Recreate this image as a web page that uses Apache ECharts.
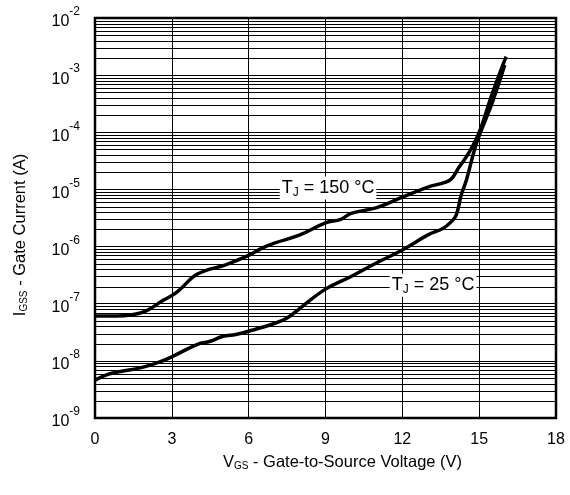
<!DOCTYPE html>
<html>
<head>
<meta charset="utf-8">
<script src="https://cdn.jsdelivr.net/npm/echarts@6/dist/echarts.min.js"></script>
<style>
  html, body { margin: 0; padding: 0; background: #fff; }
  #chart { width: 570px; height: 495px; }
</style>
</head>
<body>
<div id="chart"></div>
<script>
// Gate-to-source voltage (V) and gate leakage current (A), TJ = 150 °C
const vgs150 = [0, 0.8, 1.5, 2.0, 2.6, 3.2, 4.0, 5.1, 6.0, 6.5, 7.0, 8.0, 9.0, 9.6, 10.0, 11.0, 12.0, 13.0, 13.6, 13.9, 14.2, 14.6, 15.0, 15.5, 16.05];
const igss150 = [6.1e-8, 6.1e-8, 6.5e-8, 7.5e-8, 1.1e-7, 1.6e-7, 3.3e-7, 4.8e-7, 7.0e-7, 9.3e-7, 1.15e-6, 1.6e-6, 2.6e-6, 3.0e-6, 3.8e-6, 4.8e-6, 7.3e-6, 1.1e-5, 1.3e-5, 1.5e-5, 2.4e-5, 4.4e-5, 1.0e-4, 4.6e-4, 2.1e-3];

// TJ = 25 °C
const vgs25 = [0, 0.5, 1.0, 1.8, 2.5, 3.0, 4.0, 4.5, 5.0, 5.5, 6.0, 7.0, 7.5, 8.0, 9.0, 10.0, 11.0, 12.0, 13.0, 13.6, 13.9, 14.1, 14.3, 14.5, 14.9, 15.5, 16.0];
const igss25 = [4.6e-9, 5.8e-9, 6.5e-9, 7.6e-9, 9.5e-9, 1.18e-8, 1.95e-8, 2.2e-8, 2.7e-8, 2.9e-8, 3.3e-8, 4.5e-8, 5.6e-8, 8.3e-8, 1.8e-7, 3.0e-7, 5.2e-7, 8.7e-7, 1.6e-6, 2.1e-6, 2.7e-6, 3.5e-6, 8e-6, 1.45e-5, 6.5e-5, 3.2e-4, 1.5e-3];

// Axis ranges and ticks
const xTicks = [0, 3, 6, 9, 12, 15, 18];
const yDecades = [-9, -8, -7, -6, -5, -4, -3, -2];
const minorMultipliers = [2, 3, 4, 5, 6, 7, 8, 9];

// Curve annotation anchors: [V, I]
const label150 = [9.1, 1.06e-5];
const label25 = [13.2, 2.1e-7];

const pairs = (xs, ys) => xs.map((x, i) => [x, ys[i]]);

// Minor log gridline values (2..9 × each decade)
const minorValues = [];
yDecades.slice(0, -1).forEach(e => {
  minorMultipliers.forEach(m => minorValues.push(m * Math.pow(10, e)));
});

const xMin = xTicks[0];
const xMax = xTicks[xTicks.length - 1];

const font = 'Liberation Sans, Arial, Helvetica, sans-serif';
const subRich = { sub: { fontSize: 10, fontFamily: font, color: '#000', verticalAlign: 'bottom', padding: [7, 0, 0, 0] } };

const curveLabel = text => ({
  show: true, position: 'inside',
  formatter: text,
  color: '#000', fontFamily: font, fontSize: 18,
  backgroundColor: '#fff', padding: [1, 2, 1, 2],
  rich: { sub: { fontSize: 12, fontFamily: font, color: '#000', verticalAlign: 'bottom', padding: [9, 0, 0, 0] } }
});

const chart = echarts.init(document.getElementById('chart'));

chart.setOption({
  animation: false,
  backgroundColor: '#fff',
  grid: {
    left: 95, right: 14, top: 18, bottom: 77,
    show: true, borderColor: '#000', borderWidth: 2.5, backgroundColor: 'transparent', z: 10
  },
  xAxis: {
    type: 'value',
    min: xMin, max: xMax, interval: 3,
    axisLine: { show: false },
    axisTick: { show: false },
    axisLabel: { color: '#000', fontFamily: font, fontSize: 16, margin: 14 },
    splitLine: { show: true, lineStyle: { color: '#000', width: 1 } },
    name: 'V{sub|GS} - Gate-to-Source Voltage (V)',
    nameLocation: 'middle',
    nameGap: 36,
    nameTextStyle: {
      color: '#000', fontFamily: font, fontSize: 16.5, padding: [0, 0, 0, 34],
      rich: subRich
    }
  },
  yAxis: {
    type: 'log', logBase: 10,
    min: Math.pow(10, yDecades[0]), max: Math.pow(10, yDecades[yDecades.length - 1]),
    axisLine: { show: false },
    axisTick: { show: false },
    axisLabel: {
      margin: 15,
      formatter: v => '{b|10}{s|' + Math.round(Math.log10(v)) + '}',
      rich: {
        b: { color: '#000', fontFamily: font, fontSize: 16, lineHeight: 24, verticalAlign: 'bottom' },
        s: { color: '#000', fontFamily: font, fontSize: 12, lineHeight: 24, verticalAlign: 'top' }
      }
    },
    splitLine: { show: true, lineStyle: { color: '#000', width: 1 } },
    name: 'I{sub|GSS} - Gate Current (A)',
    nameLocation: 'middle',
    nameGap: 66,
    nameRotate: 90,
    nameTextStyle: {
      color: '#000', fontFamily: font, fontSize: 16.5, padding: [0, 34, 0, 0],
      rich: subRich
    }
  },
  series: [
    {
      // minor horizontal gridlines of the log axis
      type: 'custom',
      silent: true,
      z: 1,
      data: minorValues.map(v => [xMin, v]),
      encode: { x: 0, y: 1 },
      renderItem: (params, api) => {
        const y = api.value(1);
        const p0 = api.coord([xMin, y]);
        const p1 = api.coord([xMax, y]);
        const yy = Math.round(p0[1]) + 0.5;
        return {
          type: 'line',
          shape: { x1: p0[0], y1: yy, x2: p1[0], y2: yy },
          style: { stroke: '#000', lineWidth: 1 }
        };
      }
    },
    {
      type: 'line',
      data: pairs(vgs150, igss150),
      smooth: 0.4,
      showSymbol: false,
      lineStyle: { color: '#000', width: 3.5 },
      z: 5,
      markPoint: {
        symbol: 'rect', symbolSize: 1,
        itemStyle: { color: 'transparent' },
        label: curveLabel('T{sub|J} = 150 °C'),
        data: [{ coord: label150 }]
      }
    },
    {
      type: 'line',
      data: pairs(vgs25, igss25),
      smooth: 0.4,
      showSymbol: false,
      lineStyle: { color: '#000', width: 3.5 },
      z: 5,
      markPoint: {
        symbol: 'rect', symbolSize: 1,
        itemStyle: { color: 'transparent' },
        label: curveLabel('T{sub|J} = 25 °C'),
        data: [{ coord: label25 }]
      }
    }
  ]
});
</script>
</body>
</html>
